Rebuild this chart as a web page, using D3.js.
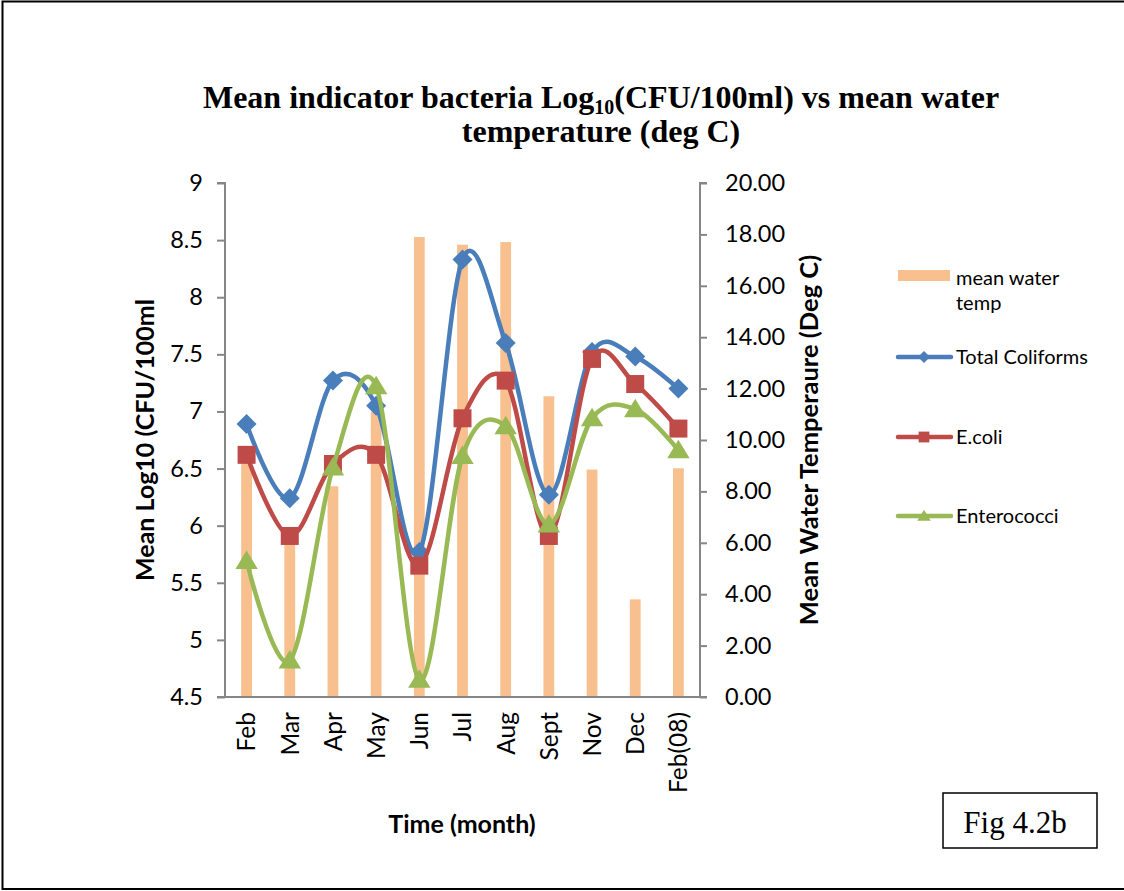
<!DOCTYPE html>
<html>
<head>
<meta charset="utf-8">
<script src="https://cdn.jsdelivr.net/npm/d3@7"></script>
<style>
  html, body { margin: 0; padding: 0; background: #fff; }
  svg { display: block; }
  .tick text { fill: #000; }
</style>
</head>
<body>
<script>
// Monthly sampling: bacterial indicator counts (log10 CFU/100ml) and mean water temperature
const months = ["Feb", "Mar", "Apr", "May", "Jun", "Jul", "Aug", "Sept", "Nov", "Dec", "Feb(08)"];
const waterTemp = [9.2, 6.3, 8.2, 11.1, 17.9, 17.6, 17.7, 11.7, 8.85, 3.8, 8.9];
const totalColiforms = [6.89, 6.24, 7.27, 7.05, 5.77, 8.33, 7.60, 6.27, 7.52, 7.48, 7.20];
const eColi = [6.62, 5.91, 6.54, 6.62, 5.65, 6.94, 7.27, 5.91, 7.46, 7.24, 6.85];
const enterococci = [5.69, 4.82, 6.51, 7.22, 4.65, 6.61, 6.87, 6.01, 6.94, 7.02, 6.66];
const leftTicks = [4.5, 5, 5.5, 6, 6.5, 7, 7.5, 8, 8.5, 9];
const rightTicks = [0, 2, 4, 6, 8, 10, 12, 14, 16, 18, 20];

const W = 1124, H = 891;
const plot = { left: 225, right: 700, top: 183, bottom: 697 };
const tickFont = "Lato, 'Open Sans', sans-serif";

const svg = d3.select("body").append("svg").attr("width", W).attr("height", H);

// outer frame (open on the right edge)
svg.append("path")
  .attr("d", `M${W + 5},1.5 H2.5 V889 H${W + 5}`)
  .attr("fill", "none").attr("stroke", "#000").attr("stroke-width", 2);

const x = d3.scaleBand().domain(months).range([plot.left, plot.right]).paddingInner(0).paddingOuter(0);
const yL = d3.scaleLinear().domain([4.5, 9]).range([plot.bottom, plot.top]);
const yR = d3.scaleLinear().domain([0, 20]).range([plot.bottom, plot.top]);

// title
const title = svg.append("text")
  .attr("text-anchor", "middle")
  .attr("font-family", "'Liberation Serif', 'Times New Roman', serif")
  .attr("font-weight", "bold")
  .attr("font-size", 32)
  .attr("fill", "#000");
const t1 = title.append("tspan").attr("x", 601).attr("y", 108);
t1.append("tspan").text("Mean indicator bacteria Log");
t1.append("tspan").attr("font-size", 20).attr("dy", 6).text("10");
t1.append("tspan").attr("dy", -6).text("(CFU/100ml) vs mean water");
title.append("tspan").attr("x", 601).attr("y", 142).text("temperature (deg C)");

// temperature bars
const barW = x.bandwidth() * 0.25;
svg.append("g").selectAll("rect")
  .data(months.map((m, i) => ({ m, v: waterTemp[i] })))
  .join("rect")
  .attr("x", d => x(d.m) + x.bandwidth() / 2 - barW / 2)
  .attr("width", barW)
  .attr("y", d => yR(d.v))
  .attr("height", d => yR(0) - yR(d.v))
  .attr("fill", "#F9C08F");

// axes
const axisColor = "#868686";
const gL = svg.append("g").attr("transform", `translate(${plot.left},0)`)
  .call(d3.axisLeft(yL).tickValues(leftTicks).tickSize(8).tickPadding(14).tickFormat(d3.format("")));
const gR = svg.append("g").attr("transform", `translate(${plot.right},0)`)
  .call(d3.axisRight(yR).tickValues(rightTicks).tickSize(7).tickPadding(18).tickFormat(d3.format(".2f")));
const gB = svg.append("g").attr("transform", `translate(0,${plot.bottom})`)
  .call(d3.axisBottom(x).tickSize(0).tickPadding(15));

[gL, gR, gB].forEach(g => {
  g.select(".domain").attr("stroke", axisColor).attr("stroke-width", 2);
  g.selectAll(".tick line").attr("stroke", axisColor).attr("stroke-width", 2);
  g.selectAll(".tick text").attr("font-family", tickFont).attr("font-size", 23.5);
});
gL.select(".domain").attr("d", `M-8,${plot.top}H0V${plot.bottom}H-8`);
gR.select(".domain").attr("d", `M7,${plot.top}H0V${plot.bottom}H7`);
gB.select(".domain").attr("d", `M${plot.left},0H${plot.right}`);
gB.selectAll(".tick text")
  .attr("font-size", 24.5)
  .attr("text-anchor", "end")
  .attr("transform", "rotate(-90)")
  .attr("x", -15).attr("y", 0).attr("dy", "0.36em");

// axis titles
svg.append("text")
  .attr("transform", `translate(154,${(plot.top + plot.bottom) / 2}) rotate(-90)`)
  .attr("text-anchor", "middle")
  .attr("font-family", tickFont).attr("font-weight", "bold").attr("font-size", 25)
  .text("Mean Log10 (CFU/100ml");
svg.append("text")
  .attr("transform", `translate(818,${(plot.top + plot.bottom) / 2}) rotate(-90)`)
  .attr("text-anchor", "middle")
  .attr("font-family", tickFont).attr("font-weight", "bold").attr("font-size", 25.5)
  .text("Mean Water Temperaure (Deg C)");
svg.append("text")
  .attr("x", 462).attr("y", 833)
  .attr("text-anchor", "middle")
  .attr("font-family", tickFont).attr("font-weight", "bold").attr("font-size", 25)
  .text("Time (month)");

// marker shapes
const markerPath = {
  diamond: s => `M0,${-s}L${s},0L0,${s}L${-s},0Z`,
  square: s => `M${-s},${-s}H${s}V${s}H${-s}Z`,
  triangle: s => `M0,${-s * 1.05}L${s * 1.12},${s * 0.8}H${-s * 1.12}Z`
};

const series = [
  { name: "Total Coliforms", values: totalColiforms, color: "#4A7EBB", marker: "diamond", size: 10 },
  { name: "E.coli", values: eColi, color: "#BE4B48", marker: "square", size: 9 },
  { name: "Enterococci", values: enterococci, color: "#98B954", marker: "triangle", size: 10 }
];

const line = d3.line()
  .x(d => x(d.m) + x.bandwidth() / 2)
  .y(d => yL(d.v))
  .curve(d3.curveCardinal.tension(0));

series.forEach(s => {
  const pts = months.map((m, i) => ({ m, v: s.values[i] }));
  const g = svg.append("g");
  g.append("path").datum(pts)
    .attr("d", line)
    .attr("fill", "none")
    .attr("stroke", s.color)
    .attr("stroke-width", 4.5)
    .attr("stroke-linejoin", "round")
    .attr("stroke-linecap", "round");
  g.selectAll(".mk").data(pts).join("path")
    .attr("class", "mk")
    .attr("transform", d => `translate(${x(d.m) + x.bandwidth() / 2},${yL(d.v)})`)
    .attr("d", markerPath[s.marker](s.size))
    .attr("fill", s.color);
});

// legend
const legend = svg.append("g").attr("font-family", tickFont).attr("font-size", 20).attr("fill", "#000");
legend.append("rect").attr("x", 898).attr("y", 270).attr("width", 52).attr("height", 11).attr("fill", "#F9C08F");
legend.append("text").attr("x", 956).attr("y", 285).text("mean water");
legend.append("text").attr("x", 956).attr("y", 310).text("temp");
const legendY = [357, 437, 516];
series.forEach((s, i) => {
  const y = legendY[i];
  legend.append("line")
    .attr("x1", 898).attr("x2", 951).attr("y1", y).attr("y2", y)
    .attr("stroke", s.color).attr("stroke-width", 4.5).attr("stroke-linecap", "round");
  legend.append("path")
    .attr("transform", `translate(924,${y})`)
    .attr("d", markerPath[s.marker](s.size * 0.6))
    .attr("fill", s.color);
  legend.append("text").attr("x", 956).attr("y", y + 7).text(s.name);
});

// figure label box
svg.append("rect")
  .attr("x", 943).attr("y", 793).attr("width", 154).attr("height", 55)
  .attr("fill", "none").attr("stroke", "#000").attr("stroke-width", 1.5);
svg.append("text")
  .attr("x", 1015).attr("y", 833)
  .attr("text-anchor", "middle")
  .attr("font-family", "'Liberation Serif', 'Times New Roman', serif")
  .attr("font-size", 31)
  .text("Fig 4.2b");
</script>
</body>
</html>
